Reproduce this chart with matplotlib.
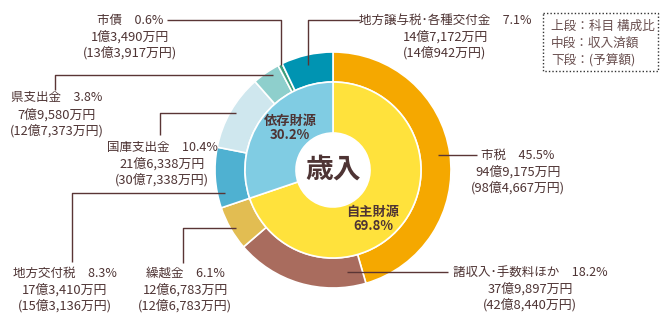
import matplotlib
matplotlib.use("Agg")
import matplotlib.pyplot as plt

plt.rcParams['font.family'] = ['Noto Sans CJK JP', 'DejaVu Sans']

# ---- data ----
outer_names = ["市税", "諸収入･手数料ほか", "繰越金", "地方交付税", "国庫支出金", "県支出金", "市債", "地方譲与税･各種交付金"]
outer_pct = [45.5, 18.2, 6.1, 8.3, 10.4, 3.8, 0.6, 7.1]
outer_amount = ["94億9,175万円", "37億9,897万円", "12億6,783万円", "17億3,410万円", "21億6,338万円", "7億9,580万円", "1億3,490万円", "14億7,172万円"]
outer_budget = ["(98億4,667万円)", "(42億8,440万円)", "(12億6,783万円)", "(15億3,136万円)", "(30億7,338万円)", "(12億7,373万円)", "(13億3,917万円)", "(14億942万円)"]
inner_names = ["自主財源", "依存財源"]
inner_pct = [69.8, 30.2]
legend_lines = ["上段：科目 構成比", "中段：収入済額", "下段：(予算額)"]
center_title = "歳入"

outer_colors = ["#F5A800", "#A96C5E", "#E2BD52", "#4FB1D1", "#CFE7EE", "#8ECFCC", "#3E9F7C", "#0094B2"]
inner_colors = ["#FFE23C", "#80CCE3"]
TXT = "#4E3434"
LINE = "#5A3535"

W, H = 670, 333
fig = plt.figure(figsize=(W / 100, H / 100), dpi=100)
ax = fig.add_axes([0, 0, 1, 1])

def Y(py):
    return H - py

cx, cy = 333, Y(170)
ax.pie(outer_pct, colors=outer_colors, radius=118, center=(cx, cy), startangle=90,
       counterclock=False, wedgeprops=dict(width=30, edgecolor="white", linewidth=1.2))
ax.pie(inner_pct, colors=inner_colors, radius=88, center=(cx, cy), startangle=90,
       counterclock=False, wedgeprops=dict(width=51, edgecolor="white", linewidth=1.2))

ax.set_xlim(0, W)
ax.set_ylim(0, H)
ax.set_aspect("equal")
ax.axis("off")

# center title
ax.text(cx, cy, center_title, ha="center", va="center", fontsize=20, color=TXT, fontweight="bold")

# inner labels
inner_pos = [(373, 212), (290, 121)]
for (x, y), n, p in zip(inner_pos, inner_names, inner_pct):
    ax.text(x, Y(y), n, ha="center", va="center", fontsize=9.5, color=TXT, fontweight="bold")
    ax.text(x, Y(y + 14), f"{p:.1f}%", ha="center", va="center", fontsize=9.5, color=TXT, fontweight="bold")

# leader lines (pixel paths)
leaders = [
    [(438, 155), (477, 155)],                 # 市税
    [(347, 272), (448, 272)],                 # 諸収入
    [(183, 263), (183, 228), (236, 228)],     # 繰越金
    [(72, 262), (72, 193), (225, 193)],       # 地方交付税
    [(160, 135), (160, 113), (236, 113)],     # 国庫支出金
    [(55, 90), (55, 75), (273, 75)],          # 県支出金
    [(167, 20), (281, 20), (281, 65)],        # 市債
    [(360, 20), (308, 20), (308, 65)],        # 地方譲与税
]
for pts in leaders:
    ax.plot([p[0] for p in pts], [Y(p[1]) for p in pts], color=LINE, lw=1, zorder=5,
            solid_capstyle="butt")

# outer labels: center x, first line y
label_pos = [(518, 155), (530, 272), (185, 273), (65, 273), (162, 147), (57, 98), (130, 20), (445, 20)]
for (x, y), n, p, a, b in zip(label_pos, outer_names, outer_pct, outer_amount, outer_budget):
    ax.text(x, Y(y), f"{n}\u3000{p:.1f}%", ha="center", va="center", fontsize=9, color=TXT)
    ax.text(x, Y(y + 16.5), a, ha="center", va="center", fontsize=9.3, color=TXT)
    ax.text(x, Y(y + 33), b, ha="center", va="center", fontsize=9.3, color=TXT)

# legend box
bx0, by0, bx1, by1 = 543, 13, 658, 71
ax.plot([bx0, bx1, bx1, bx0, bx0], [Y(by0), Y(by0), Y(by1), Y(by1), Y(by0)],
        color="#333333", lw=1, ls=(0, (1, 1.5)))
for i, t in enumerate(legend_lines):
    ax.text(551, Y(26 + 17 * i), t, ha="left", va="center", fontsize=9.1, color="#6A5050")

fig.savefig("out.png", dpi=100)
